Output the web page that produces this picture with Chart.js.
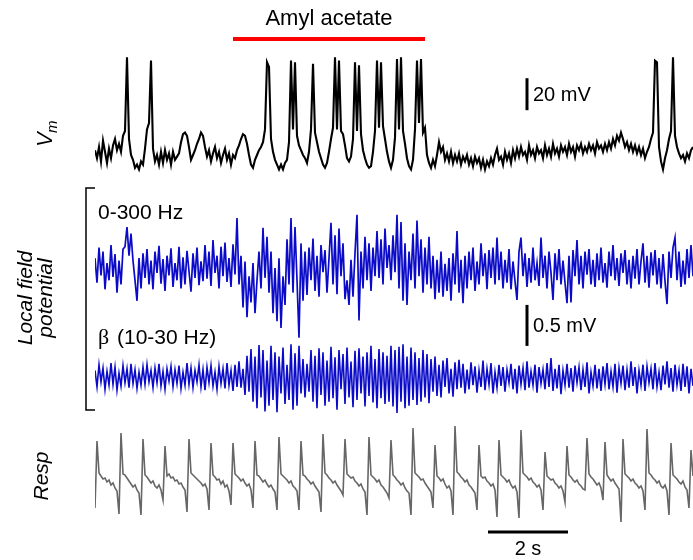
<!DOCTYPE html>
<html>
<head>
<meta charset="utf-8">
<script src="https://cdn.jsdelivr.net/npm/chart.js@4.4.1/dist/chart.umd.min.js"></script>
<style>
    body { margin: 0; background: #fff; }
    #traces { display: block; }
</style>
</head>
<body>
<canvas id="traces" width="693" height="560"></canvas>
<script>
// one sample every 0.05 s, 15 s of recording
const dt = 0.05;
const odorOn = [3.45, 8.25]; // amyl acetate, s

// membrane potential, mV
const vm = [
    -57,-62,-55,-64,-51,-58,-65,-56,-62,-54,
    -50,-57,-53,-58,-48,-45,1,-50,-60,-63,
    -68,-66,-69,-64,-66,-56,-44,-40,-1,-56,
    -64,-60,-66,-58,-65,-57,-63,-59,-66,-58,
    -63,-61,-59,-52,-47,-46,-48,-55,-63,-60,
    -57,-53,-50,-46,-48,-55,-61,-57,-64,-59,
    -55,-62,-58,-65,-60,-56,-63,-59,-66,-60,
    -62,-57,-54,-50,-47,-48,-53,-60,-66,-68,
    -63,-60,-57,-55,-52,-44,-2,-5,-50,-58,
    -63,-66,-69,-66,-69,-65,-63,-52,-1,-44,
    -2,-48,-54,-57,-60,-62,-65,-58,-44,-3,
    -46,-52,-58,-62,-66,-68,-65,-58,-50,-43,
    1,-44,-1,-45,-47,-54,-62,-64,-61,-50,
    -2,-45,-4,-47,-57,-62,-66,-68,-67,-58,
    -45,-1,-43,-2,-42,-50,-58,-64,-68,-63,
    -49,0,-44,1,-45,-53,-62,-67,-69,-63,
    -44,-1,-40,0,-46,-43,-60,-65,-68,-63,
    -67,-60,-52,-58,-55,-63,-59,-64,-58,-65,
    -60,-64,-59,-66,-61,-64,-60,-66,-62,-67,
    -61,-65,-62,-68,-63,-69,-64,-67,-62,-66,
    -60,-56,-63,-61,-66,-58,-63,-59,-65,-57,
    -62,-56,-61,-55,-60,-58,-63,-54,-60,-57,
    -62,-55,-59,-57,-62,-54,-60,-56,-61,-53,
    -59,-56,-61,-54,-58,-55,-60,-53,-58,-55,
    -61,-54,-57,-53,-59,-55,-58,-53,-57,-54,
    -59,-52,-56,-54,-58,-53,-57,-52,-56,-50,
    -54,-48,-51,-46,-50,-55,-52,-57,-53,-58,
    -54,-59,-55,-60,-56,-62,-58,-55,-50,-46,
    -1,-2,-55,-64,-69,-62,-57,-50,-45,1,
    -48,-55,-59,-62,-60,-64,-59,-62,-57,-55
];

// local field potential 0-300 Hz, uV
const lfp = [
    120,-180,250,-90,200,-260,60,-150,280,-110,
    170,-300,90,-200,230,260,500,150,420,90,
    -150,-400,120,-250,180,-120,230,-200,90,-260,
    200,-60,270,-190,110,-280,150,-90,240,-230,
    60,-150,260,-250,130,-200,210,-40,-290,180,
    -120,250,-210,80,-160,280,-130,200,-220,340,
    -60,150,-250,260,-100,310,-170,120,-230,290,
    -80,610,-200,150,-480,80,-600,-100,-420,60,
    -550,-150,200,-250,490,-120,380,-300,200,-550,
    0,-650,120,-730,-100,-450,350,-200,610,-300,
    500,-150,-850,300,-400,200,-330,250,-150,360,
    -280,150,-350,280,-50,220,-300,120,550,-200,
    400,-320,480,-100,300,-380,-150,-450,100,-350,
    180,650,-640,200,-250,380,-150,300,-280,250,
    -100,450,-120,350,-200,480,0,280,-150,400,
    -50,650,-250,560,-400,300,-450,200,-150,420,
    -250,580,-100,350,-300,250,-200,380,-250,150,
    -380,100,-300,200,-350,50,-280,120,-400,180,
    -200,450,-300,100,-430,150,-250,200,-150,250,
    -280,80,-200,300,-100,180,-260,220,-120,250,
    -200,370,-150,200,-250,100,-180,230,-260,80,
    -160,-390,200,370,-100,180,-230,120,-180,250,
    -150,60,-220,370,-120,150,-250,200,-60,-390,
    180,-150,230,-200,90,-180,-430,150,-420,220,
    -100,340,-200,150,-250,200,-80,230,-200,100,
    -230,180,-150,250,-180,60,-240,200,-100,280,
    -150,120,-220,180,-60,220,-200,100,-250,150,
    -130,230,-200,80,300,-180,150,-240,190,-90,
    220,-200,120,-250,170,-160,-440,200,-120,250,
    370,-150,200,-230,90,-200,230,-120,280,-100
];

// beta band 10-30 Hz, uV
const beta = [
    80,-120,150,-60,110,-150,70,-100,170,-90,
    120,-160,50,-110,140,-70,100,-130,160,-80,
    90,-140,60,-100,120,-90,150,-60,80,-130,
    110,-70,160,-110,70,-150,100,-50,130,-120,
    90,-80,140,-140,60,-100,170,-90,110,-130,
    80,-60,150,-120,90,-160,120,-70,140,-110,
    60,-150,130,-80,100,-140,170,-100,80,-170,
    150,-120,190,-130,100,-220,260,-180,340,-300,
    250,-380,390,-250,330,-420,200,-350,380,-280,
    300,-430,250,-200,360,-330,150,-280,400,-400,
    290,-350,380,-200,220,-250,160,-180,330,-300,
    260,-380,350,-220,300,-350,200,-300,370,-260,
    240,-400,330,-150,280,-330,360,-250,190,-370,
    320,-280,350,-200,250,-360,300,-230,380,-310,
    220,-380,340,-260,300,-330,260,-300,380,-360,
    330,-440,370,-300,400,-380,250,-350,360,-280,
    300,-340,230,-300,330,-250,280,-320,220,-180,
    250,-230,150,-250,200,-120,230,-200,100,-240,
    180,-150,210,-130,160,-200,90,-150,180,-100,
    130,-190,80,-120,200,-160,100,-90,170,-200,
    60,-130,150,-110,120,-180,90,-70,160,-150,
    100,-200,140,-90,110,-160,190,-130,70,-100,
    150,-190,120,-80,90,-150,170,-120,230,-170,
    100,-140,150,-210,80,-100,160,-130,110,-180,
    140,-70,120,-160,90,-120,180,-200,60,-110,
    150,-140,100,-170,130,-90,170,-150,70,-120,
    160,-190,110,-80,140,-160,90,-130,190,-110,
    120,-200,80,-100,150,-170,130,-70,100,-150,
    170,-120,60,-160,140,-90,190,-130,110,-180,
    150,-100,80,-170,160,-120,130,-200,100,-110
];

// respiration, arbitrary units
const resp = [
    -50,84,20,14,8,10,2,6,-4,0,
    -10,-16,-62,100,18,16,10,4,-2,-8,
    -4,-14,-20,-64,88,16,12,6,0,4,
    -6,-10,-4,-14,-34,74,14,18,10,12,
    4,6,-2,0,-8,-14,-58,88,20,16,
    12,8,4,0,-6,-2,-12,-54,80,16,
    12,6,8,-2,4,-8,-4,-16,-44,80,
    18,14,10,4,8,0,-6,-2,-14,-50,
    84,16,14,8,2,6,-2,-8,-4,-12,
    -18,-54,92,18,14,10,6,0,4,-6,
    -10,-16,-54,84,16,14,8,4,-2,2,
    -6,-12,-18,-58,98,20,16,10,6,0,
    4,-4,-10,-16,-24,88,18,14,10,12,
    4,0,-6,-2,-12,-18,-64,92,16,12,
    8,2,6,-4,-8,-14,-20,-30,86,16,
    12,6,2,-4,0,-10,-16,-20,-64,110,
    20,16,12,6,8,0,-6,-12,-18,-50,
    76,14,10,4,8,-2,-10,-6,-16,-64,
    114,22,18,12,8,2,6,-4,-8,-14,
    -20,-54,76,14,10,12,4,0,-6,-2,
    -14,-68,86,16,12,8,2,6,-4,-10,
    -6,-18,-70,106,20,16,12,6,10,2,
    -2,-8,-4,-14,-54,62,14,10,6,8,
    0,-4,-10,-6,-16,-38,74,16,12,6,
    2,6,-2,-6,-12,-14,90,18,12,8,
    2,-4,0,-10,-34,82,16,10,4,8,
    0,-6,-12,-78,88,18,14,10,4,8,
    0,-4,-10,-6,-16,-54,108,20,16,10,
    6,0,4,-6,-10,-4,-16,-64,80,16,
    12,8,2,-2,4,-8,-14,-50,66,14
];

// scale bars: [position, start, length]
const vmBar = [10.8, -32, 20];     // s, mV, mV
const lfpBar = [10.8, -950, 500];  // s, uV, uV
const timeBar = [9.825, 2];        // s, s

Chart.defaults.font.family = "'Liberation Sans', Arial, sans-serif";
Chart.defaults.color = '#000';

const H = 560;
const blue = 'rgb(10,10,200)';

function series(values) {
    return values.map(function (v, i) { return { x: i * dt, y: v }; });
}

// each trace gets its own hidden y axis over the full height
function band(centerPx, pxPerUnit, centerValue) {
    return {
        type: 'linear',
        display: false,
        min: centerValue - (H - centerPx) / pxPerUnit,
        max: centerValue + centerPx / pxPerUnit
    };
}

function vline(ctx, x, y1, y2) {
    ctx.beginPath();
    ctx.moveTo(x, y1);
    ctx.lineTo(x, y2);
    ctx.stroke();
}

function hline(ctx, x1, x2, y) {
    ctx.beginPath();
    ctx.moveTo(x1, y);
    ctx.lineTo(x2, y);
    ctx.stroke();
}

function rotated(ctx, text, x, y, font) {
    ctx.save();
    ctx.translate(x, y);
    ctx.rotate(-Math.PI / 2);
    ctx.font = font;
    ctx.textAlign = 'center';
    ctx.textBaseline = 'middle';
    ctx.fillText(text, 0, 0);
    ctx.restore();
}

const annotations = {
    id: 'annotations',
    afterDraw: function (chart) {
        const ctx = chart.ctx;
        const x = chart.scales.x;
        const yVm = chart.scales.yVm;
        const yLfp = chart.scales.yLfp;
        ctx.save();
        ctx.fillStyle = '#000';

        // odor
        ctx.strokeStyle = '#f00';
        ctx.lineWidth = 4;
        hline(ctx, x.getPixelForValue(odorOn[0]), x.getPixelForValue(odorOn[1]), 39);
        ctx.font = "22px 'Liberation Sans'";
        ctx.textAlign = 'center';
        ctx.textBaseline = 'middle';
        ctx.fillText('Amyl acetate', 329, 19);

        // scale bars
        ctx.strokeStyle = '#000';
        ctx.lineWidth = 3;
        vline(ctx, x.getPixelForValue(vmBar[0]),
            yVm.getPixelForValue(vmBar[1]), yVm.getPixelForValue(vmBar[1] + vmBar[2]));
        vline(ctx, x.getPixelForValue(lfpBar[0]),
            yLfp.getPixelForValue(lfpBar[1]), yLfp.getPixelForValue(lfpBar[1] + lfpBar[2]));
        hline(ctx, x.getPixelForValue(timeBar[0]), x.getPixelForValue(timeBar[0] + timeBar[1]), 532);

        ctx.font = "20px 'Liberation Sans'";
        ctx.textAlign = 'left';
        ctx.fillText('20 mV', 533, 95);
        ctx.fillText('0.5 mV', 533, 326);
        ctx.font = "21px 'Liberation Sans'";
        ctx.fillText('0-300 Hz', 98, 213);
        ctx.font = "22px 'Liberation Serif'";
        ctx.fillText('\u03b2', 98, 338);
        ctx.font = "21px 'Liberation Sans'";
        ctx.fillText('(10-30 Hz)', 117, 338);
        ctx.textAlign = 'center';
        ctx.font = "20px 'Liberation Sans'";
        ctx.fillText('2 s', 528, 549);

        // bracket round the two LFP traces
        ctx.lineWidth = 1.5;
        ctx.beginPath();
        ctx.moveTo(95, 188);
        ctx.lineTo(86, 188);
        ctx.lineTo(86, 410);
        ctx.lineTo(95, 410);
        ctx.stroke();

        // trace labels
        ctx.save();
        ctx.translate(45, 135);
        ctx.rotate(-Math.PI / 2);
        ctx.textAlign = 'left';
        ctx.textBaseline = 'alphabetic';
        ctx.font = "italic 22px 'Liberation Sans'";
        ctx.fillText('V', -12, 7);
        ctx.font = "italic 15px 'Liberation Sans'";
        ctx.fillText('m', 2, 12);
        ctx.restore();
        rotated(ctx, 'Local field', 26, 298, "italic 21px 'Liberation Sans'");
        rotated(ctx, 'potential', 46, 298, "italic 21px 'Liberation Sans'");
        rotated(ctx, 'Resp', 42, 476, "italic 21px 'Liberation Sans'");

        ctx.restore();
    }
};

const ctxTraces = document.getElementById('traces').getContext('2d');

var traces = new Chart(ctxTraces, {
    type: 'line',
    data: {
        datasets: [{
            label: 'Resp',
            data: series(resp),
            yAxisID: 'yResp',
            borderColor: '#666',
            borderWidth: 1.6
        }, {
            label: 'beta',
            data: series(beta),
            yAxisID: 'yBeta',
            borderColor: blue,
            borderWidth: 1.6
        }, {
            label: 'LFP',
            data: series(lfp),
            yAxisID: 'yLfp',
            borderColor: blue,
            borderWidth: 1.7
        }, {
            label: 'Vm',
            data: series(vm),
            yAxisID: 'yVm',
            borderColor: '#000',
            borderWidth: 2.1
        }]
    },
    options: {
        responsive: false,
        animation: false,
        events: [],
        layout: { padding: { left: 95, right: 0, top: 0, bottom: 0 } },
        elements: {
            point: { radius: 0 },
            line: { tension: 0, borderJoinStyle: 'miter' }
        },
        plugins: {
            legend: { display: false },
            tooltip: { enabled: false }
        },
        scales: {
            x: { type: 'linear', display: false, min: 0, max: 14.95 },
            yVm: band(155, 1.6, -60),
            yLfp: band(268, 0.082, 0),
            yBeta: band(377, 0.082, 0),
            yResp: band(483, 0.5, 0)
        }
    },
    plugins: [annotations]
});
</script>
</body>
</html>
